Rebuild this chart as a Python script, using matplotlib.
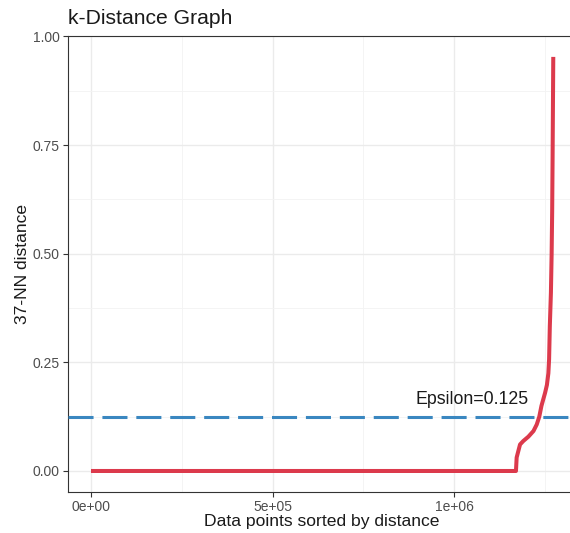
import matplotlib.pyplot as plt
from matplotlib.ticker import MultipleLocator

# sorted 37-NN distances (index of point, distance)
point_index = [0, 1.1698e6, 1.1717e6, 1.181e6, 1.190e6, 1.204e6, 1.218e6, 1.227e6,
               1.234e6, 1.240e6, 1.250e6, 1.255e6, 1.259e6, 1.261e6, 1.263e6, 1.266e6,
               1.268e6, 1.2695e6, 1.2706e6, 1.2725e6]
knn_dist = [0.0, 0.0, 0.031, 0.061, 0.069, 0.079, 0.092, 0.107,
            0.125, 0.15, 0.18, 0.198, 0.225, 0.257, 0.333, 0.41,
            0.50, 0.60, 0.717, 0.953]

epsilon = 0.125
eps_label = "Epsilon=0.125"
eps_label_x = 1.05e6
eps_label_y = 0.165

x_ticks = [0, 5e5, 1e6]
x_tick_labels = ["0e+00", "5e+05", "1e+06"]
y_ticks = [0.0, 0.25, 0.50, 0.75, 1.00]
y_tick_labels = ["0.00", "0.25", "0.50", "0.75", "1.00"]

plt.rcParams['font.family'] = ['Liberation Sans', 'DejaVu Sans']

fig = plt.figure(figsize=(5.7, 5.33), dpi=100)
ax = fig.add_axes([0.1191, 0.0775, 0.8921, 0.8546])

ax.plot(point_index, knn_dist, color='#dc3a4c', linewidth=2.9,
        solid_joinstyle='round', solid_capstyle='butt', zorder=3)
ax.axhline(epsilon, color='#3a87c0', linewidth=2.2,
           linestyle=(0, (8.2, 2.9)), zorder=4)
ax.text(eps_label_x, eps_label_y, eps_label, ha='center', va='center',
        fontsize=12.8, color='#1a1a1a')

# ggplot-style 5% expansion
xmax = max(point_index)
ymax = max(knn_dist)
ax.set_xlim(-0.05 * xmax, xmax * 1.05)
ax.set_ylim(-0.05 * ymax, ymax * 1.05)

ax.set_xticks(x_ticks)
ax.set_xticklabels(x_tick_labels)
ax.set_yticks(y_ticks)
ax.set_yticklabels(y_tick_labels)
ax.xaxis.set_minor_locator(MultipleLocator(2.5e5))
ax.yaxis.set_minor_locator(MultipleLocator(0.125))

ax.grid(which='major', color='#ebebeb', linewidth=1.0, zorder=0)
ax.grid(which='minor', color='#f3f3f3', linewidth=0.6, zorder=0)
ax.set_axisbelow(True)

ax.tick_params(which='major', length=3.5, width=0.8, color='#333333',
               labelcolor='#4d4d4d', labelsize=10, pad=2.5)
ax.tick_params(which='minor', length=0)
for sp in ax.spines.values():
    sp.set_color('#333333')
    sp.set_linewidth(0.8)

ax.set_xlabel("Data points sorted by distance", fontsize=12.6, labelpad=0,
              color='#1a1a1a')
ax.set_ylabel("37-NN distance", fontsize=12.6, labelpad=2, color='#1a1a1a')
ax.set_title("k-Distance Graph", fontsize=15.2, loc='left', pad=9,
             color='#1a1a1a')

fig.savefig("out.png", dpi=100)
